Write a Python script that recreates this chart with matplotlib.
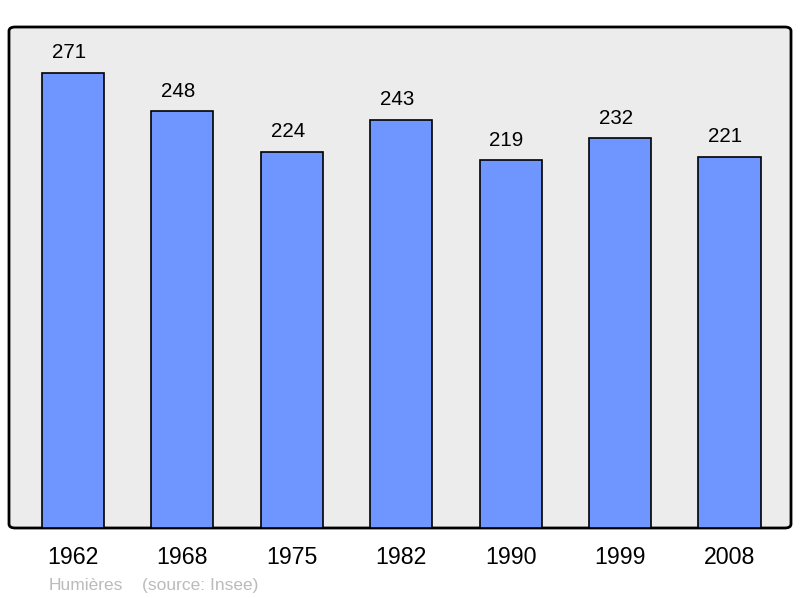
import matplotlib.pyplot as plt
from matplotlib.patches import FancyBboxPatch

# population par recensement
years = ['1962', '1968', '1975', '1982', '1990', '1999', '2008']
population = [271, 248, 224, 243, 219, 232, 221]

plt.rcParams['font.family'] = ['Liberation Sans', 'DejaVu Sans']

fig = plt.figure(figsize=(8, 5.98), dpi=100)
ax = fig.add_axes([9 / 800, 70 / 598, 782 / 800, 501 / 598])

x = list(range(len(years)))
ax.bar(x, population, width=0.567, color='#6f96ff', edgecolor='black', linewidth=1.2, zorder=2)

for xi, val in zip(x, population):
    ax.annotate(str(val), (xi, val), xytext=(-3, 7.5), textcoords='offset points',
                ha='center', va='bottom', fontsize=14.8, color='black')

ax.set_xlim(-0.585, 6.562)
ax.set_ylim(0, 271 * 1.1)
ax.set_xticks([])
ax.set_yticks([])
ax.set_facecolor('none')
for s in ax.spines.values():
    s.set_visible(False)

# cadre arrondi
frame = FancyBboxPatch((0, 0), 1, 1, boxstyle='round,pad=0,rounding_size=0.008',
                       transform=ax.transAxes, facecolor='#ececec', edgecolor='black',
                       linewidth=2, zorder=0, clip_on=False)
ax.add_patch(frame)
ax.patch.set_visible(False)

for xi, yr in zip(x, years):
    ax.text(xi, -0.058, yr, transform=ax.get_xaxis_transform(), ha='center', va='center',
            fontsize=16.7, color='black')

fig.text(49 / 800, 1 - 590 / 598, 'Humières', fontsize=12.5, color='#bbbbbb', ha='left', va='baseline')
fig.text(142 / 800, 1 - 590 / 598, '(source: Insee)', fontsize=12.5, color='#bbbbbb', ha='left', va='baseline')

fig.savefig('out.png', dpi=100)
